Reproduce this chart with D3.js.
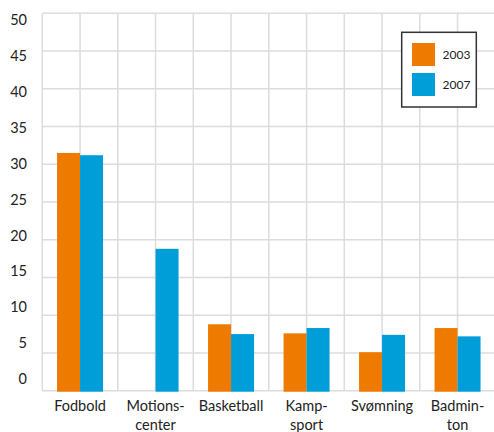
<!DOCTYPE html>
<html>
<head>
<meta charset="utf-8">
<script src="https://cdn.jsdelivr.net/npm/d3@7"></script>
<style>
body { margin: 0; background: #fff; }
text { font-family: Lato, "Open Sans", sans-serif; fill: #222; }
</style>
</head>
<body>
<svg></svg>
<script>
var categories = [["Fodbold"], ["Motions-", "center"], ["Basketball"], ["Kamp-", "sport"], ["Svømning"], ["Badmin-", "ton"]];
var series = ["2003", "2007"];
var values2003 = [31.5, null, 8.8, 7.6, 5.1, 8.3];
var values2007 = [31.2, 18.8, 7.5, 8.3, 7.4, 7.2];
var yTicks = [0, 5, 10, 15, 20, 25, 30, 35, 40, 45, 50];
var colors = ["#ee7a00", "#009ed8"];

var svgWidth = 494, svgHeight = 432;
var plotLeft = 42.3, plotBottom = 390.7, plotTop = 13.3, plotRight = 495.3;

var svg = d3.select("svg").attr("width", svgWidth).attr("height", svgHeight);

var x = d3.scaleBand().domain(d3.range(categories.length)).range([plotLeft, plotRight]);
var y = d3.scaleLinear().domain([0, 50]).range([plotBottom, plotTop]);
// the tick labels sit on their own slightly squeezed scale in the original
var yLabel = d3.scaleLinear().domain([0, 50]).range([379, 20]);

// horizontal grid
svg.selectAll(".hgrid").data(yTicks).enter().append("line")
    .attr("x1", plotLeft).attr("x2", plotRight)
    .attr("y1", function(d){ return y(d); }).attr("y2", function(d){ return y(d); })
    .attr("stroke", "#dcdcdc").attr("stroke-width", 1.5);

// vertical grid, two columns per category
var cols = d3.range(categories.length * 2 + 1);
svg.selectAll(".vgrid").data(cols).enter().append("line")
    .attr("x1", function(d){ return plotLeft + d * x.bandwidth() / 2; })
    .attr("x2", function(d){ return plotLeft + d * x.bandwidth() / 2; })
    .attr("y1", plotTop).attr("y2", plotBottom)
    .attr("stroke", "#dcdcdc").attr("stroke-width", 1.5);

var barWidth = 23;
[values2003, values2007].forEach(function(vals, s){
    var pts = vals.map(function(v, i){ return {i: i, v: v}; })
        .filter(function(d){ return d.v != null; });
    svg.selectAll(".bar" + s).data(pts).enter().append("rect")
        .attr("x", function(d){ return x(d.i) + x.bandwidth() / 2 + (s - 1) * barWidth; })
        .attr("y", function(d){ return y(d.v); })
        .attr("width", barWidth)
        .attr("height", function(d){ return y(0) - y(d.v) + 1; })
        .attr("fill", colors[s]);
});

// y tick labels
var yAxis = svg.append("g").attr("transform", "translate(27,0)")
    .call(d3.axisLeft(yLabel).tickValues(yTicks).tickSize(0).tickPadding(0));
yAxis.select(".domain").remove();
yAxis.selectAll("text").style("font-size", "14.5px").attr("fill", "#222");

// category labels
var cat = svg.selectAll(".cat").data(categories).enter().append("text")
    .attr("text-anchor", "middle")
    .attr("x", function(d, i){ return x(i) + x.bandwidth() / 2; })
    .attr("y", 411)
    .style("font-size", "14.5px");
cat.selectAll("tspan").data(function(d){ return d; }).enter().append("tspan")
    .attr("x", function(){ return d3.select(this.parentNode).attr("x"); })
    .attr("dy", function(d, i){ return i ? 19 : 0; })
    .text(function(d){ return d; });

// legend
var legend = svg.append("g");
legend.append("rect").attr("x", 401.7).attr("y", 32.3).attr("width", 74.6).attr("height", 74.7)
    .attr("fill", "#fff").attr("stroke", "#333").attr("stroke-width", 1.5);
series.forEach(function(s, i){
    legend.append("rect").attr("x", 412).attr("y", 43 + i * 30).attr("width", 23).attr("height", 23)
        .attr("fill", colors[i]);
    legend.append("text").attr("x", 442.5).attr("y", 58.5 + i * 30)
        .style("font-size", "12px").text(s);
});
</script>
</body>
</html>
